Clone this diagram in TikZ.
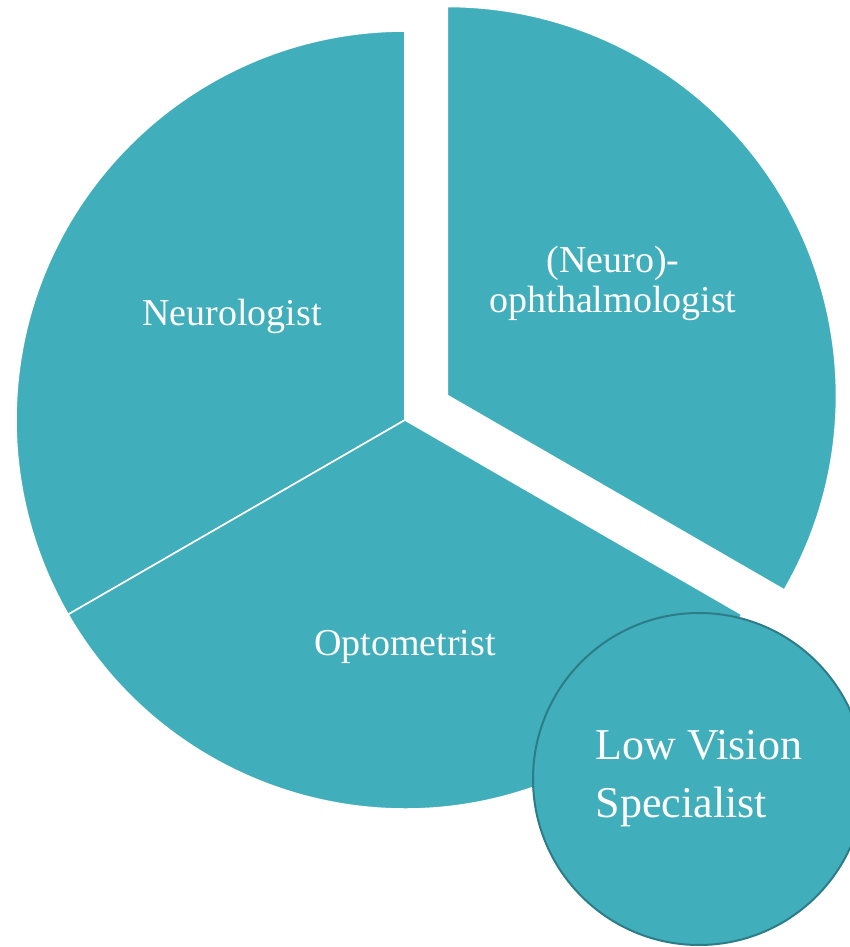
\documentclass[tikz,border=0pt]{standalone}
\usepackage{fontspec}
\setmainfont{Liberation Serif}
\definecolor{pieteal}{RGB}{65,174,187}
\definecolor{rimteal}{RGB}{44,125,135}
\tikzset{
  slice/.style={fill=pieteal, draw=white, line width=1.6pt, line join=miter},
  slicetext/.style={text=white, font=\fontsize{38}{40}\selectfont, align=center},
  bubble/.style={circle, fill=pieteal, draw=rimteal, line width=2pt,
    minimum size=332pt, inner sep=0pt, text=white, align=left,
    font=\fontsize{44}{58}\selectfont}
}

\begin{document}
\begin{tikzpicture}[x=1pt,y=1pt]
		\useasboundingbox (0,0) rectangle (850,947);
		\begin{scope}
			\coordinate (c) at (405,527);
			\coordinate (e) at (447.4,551.5);
		
			\draw[slice] (c) -- ++(90:389) arc[start angle=90, end angle=210, radius=389] -- cycle;
			\draw[slice] (c) -- ++(210:389) arc[start angle=210, end angle=330, radius=389] -- cycle;
			\draw[slice] (e) -- ++(-30:389) arc[start angle=-30, end angle=90, radius=389] -- cycle;
		
			\node[slicetext] (neuro) at (232,631) {Neurologist};
			\node[slicetext] (opto) at (405,300) {Optometrist};
			\node[slicetext] (ophth) at (613,664) {(Neuro)-\\ophthalmologist};
		
			\node[bubble] (lowvis) at (699,168) {Low Vision\\Specialist};
		\end{scope}
	\end{tikzpicture}
\end{document}
